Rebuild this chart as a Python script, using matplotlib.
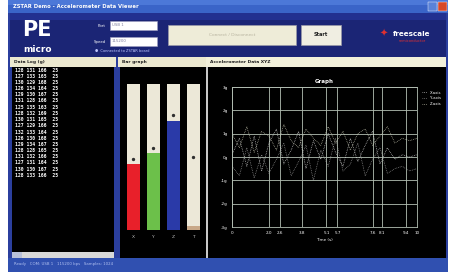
import matplotlib
matplotlib.use("Agg")
import matplotlib.pyplot as plt
from matplotlib.patches import Rectangle

W, H = 455, 272

# ---------------- data ----------------
gauge_labels = ["X", "Y", "Z", "T"]
gauge_values = [0.45, 0.53, 0.75, 0.03]
gauge_colors = ["#e8202a", "#6cc04a", "#2a3aa8", "#c8a888"]

x_ticks = [0, 20, 26, 38, 51, 57, 76, 81, 94, 100]
x_tick_labels = ["0", "2.0", "2.6", "3.8", "5.1", "5.7", "7.6", "8.1", "9.4", "10"]
y_ticks = [0, 1, 2, 3, 4, 5, 6]
y_tick_labels = ["-3g", "-2g", "-1g", "0g", "1g", "2g", "3g"]

t = [0, 4, 8, 12, 16, 20, 24, 28, 32, 36, 40, 44, 48, 52, 56, 60, 64, 68, 72, 76, 80, 84, 88, 92, 96, 100]
series_x = [3.1, 3.8, 2.6, 3.9, 2.4, 3.6, 4.2, 2.7, 3.3, 4.1, 2.5, 3.7, 2.9, 4.0, 3.2, 2.6, 3.8, 2.8, 3.5, 4.1, 2.7, 3.4, 2.9, 3.1, 3.0, 3.1]
series_y = [2.6, 2.2, 3.4, 2.1, 3.1, 2.3, 2.9, 3.6, 2.2, 2.8, 3.5, 2.0, 3.3, 2.6, 3.8, 2.4, 2.7, 3.6, 2.2, 2.9, 3.4, 2.3, 2.5, 2.6, 2.4, 2.5]
series_z = [4.0, 3.4, 4.3, 3.2, 4.1, 3.9, 3.3, 4.4, 3.7, 3.4, 4.2, 3.8, 3.5, 4.3, 3.6, 4.1, 3.3, 4.0, 4.2, 3.5, 3.9, 4.3, 3.6, 3.8, 3.7, 3.8]
series_names = ["X-axis", "Y-axis", "Z-axis"]

log_rows = [
    [128, 131, 166, 25], [127, 133, 165, 25], [130, 129, 168, 25], [126, 134, 164, 25],
    [129, 130, 167, 25], [131, 128, 166, 25], [125, 135, 163, 25], [128, 132, 169, 25],
    [130, 131, 165, 25], [127, 129, 166, 25], [132, 133, 164, 25], [126, 130, 168, 25],
    [129, 134, 167, 25], [128, 128, 165, 25], [131, 132, 166, 25], [127, 131, 164, 25],
    [130, 130, 167, 25], [128, 133, 166, 25],
]

# ---------------- figure ----------------
fig = plt.figure(figsize=(W / 100, H / 100), dpi=100)
fig.patch.set_facecolor("white")
bg = fig.add_axes([0, 0, 1, 1])
bg.set_xlim(0, W)
bg.set_ylim(H, 0)
bg.axis("off")


def rect(x0, y0, x1, y1, fc, ec="none", lw=0.0, z=1):
    bg.add_patch(Rectangle((x0, y0), x1 - x0, y1 - y0, facecolor=fc, edgecolor=ec, lw=lw, zorder=z))


def px_axes(x0, y0, x1, y1):
    return fig.add_axes([x0 / W, 1 - y1 / H, (x1 - x0) / W, (y1 - y0) / H])


# window frame
rect(8, 0, 448, 272, "#2b3f9e")
rect(8, 0, 448, 13, "#3a64c8")                 # title bar
rect(8, 0, 448, 5, "#4c78d8")
bg.text(13, 6.5, "ZSTAR Demo - Accelerometer Data Viewer", color="white", fontsize=3.8,
        va="center", ha="left", fontweight="bold")
rect(428, 2, 437, 11, "#5a82d8", ec="white", lw=0.3)
rect(438, 2, 447, 11, "#d84828", ec="white", lw=0.3)
rect(10, 13, 446, 57, "#1b2575")               # header area
rect(10, 13, 446, 20, "#223090")

# PE micro logo
bg.text(37, 30, "PE", color="white", fontsize=15, fontweight="bold", ha="center", va="center",
        family="DejaVu Sans")
bg.text(37, 50, "micro", color="white", fontsize=6.5, fontweight="bold", ha="center", va="center")

# inputs
bg.text(106, 26, "Port", color="white", fontsize=2.8, ha="right", va="center")
bg.text(106, 42, "Speed", color="white", fontsize=2.8, ha="right", va="center")
rect(110, 21, 157, 30, "white", ec="#a0a0c0", lw=0.4)
rect(110, 37, 157, 46, "white", ec="#a0a0c0", lw=0.4)
bg.text(112, 25.5, "USB 1", color="#8080a0", fontsize=2.8, va="center")
bg.text(112, 41.5, "115200", color="#8080a0", fontsize=2.8, va="center")
bg.text(95, 51, "\u25cf  Connected to ZSTAR board", color="#c0c8ff", fontsize=2.6, va="center")

# buttons
rect(168, 25, 296, 45, "#eeecd8", ec="#9a9aa8", lw=0.5)
bg.text(232, 35, "Connect / Disconnect", color="#b8b4a0", fontsize=3.2, ha="center", va="center")
rect(301, 25, 341, 45, "#f0eee2", ec="#9a9aa8", lw=0.5)
bg.text(321, 35, "Start", color="#202020", fontsize=3.6, ha="center", va="center", fontweight="bold")

# freescale logo
bg.text(384, 34, "\u2726", color="#e03030", fontsize=7, ha="center", va="center", family="DejaVu Sans")
bg.text(412, 34, "freescale", color="white", fontsize=5.2, ha="center", va="center", fontweight="bold")
bg.text(412, 40.5, "semiconductor", color="#e03030", fontsize=2.6, ha="center", va="center")

# panel headers
rect(10, 57, 116, 67, "#ece9d0")
bg.text(14, 62, "Data Log (g)", fontsize=3.2, color="#202020", va="center", fontweight="bold")
rect(118, 57, 206, 67, "#ece9d0")
bg.text(122, 62, "Bar graph", fontsize=3.2, color="#202020", va="center", fontweight="bold")
rect(206, 57, 446, 67, "#f2f0da")
bg.text(210, 62, "Accelerometer Data XYZ", fontsize=3.2, color="#202020", va="center", fontweight="bold")

# left log panel
rect(12, 67, 114, 252, "black")
for i, row in enumerate(log_rows):
    y = 70 + i * 6.2
    line = " ".join(f"{v:>3d}" for v in row)
    bg.text(15, y, line, color="white", fontsize=3.4, family="DejaVu Sans Mono", va="center",
            fontweight="bold")
rect(12, 252, 114, 258, "#d8d8d8")
rect(12, 252, 22, 258, "#b8c0d8")

# middle panel
rect(120, 67, 206, 258, "black")
# right panel
rect(207, 67, 446, 258, "black")
rect(206, 67, 207.5, 258, "#c8c8c8")

# status bar
rect(8, 258, 448, 272, "#3050b0")
bg.text(14, 264.5, "Ready   COM: USB 1   115200 bps   Samples: 1024", color="#b0c0f0", fontsize=2.8,
        va="center")

# ---------------- gauge axes ----------------
gx = px_axes(123.5, 84, 203.5, 230)
gx.set_facecolor("black")
gx.set_xlim(-0.5, 3.5)
gx.set_ylim(0, 1)
pos = list(range(len(gauge_values)))
gx.bar(pos, [1] * len(pos), width=0.65, color="#ece8d8", zorder=1)
gx.bar(pos, gauge_values, width=0.65, color=gauge_colors, zorder=2)
for p, v in zip(pos, gauge_values):
    gx.plot(p, v + 0.035 if p != 3 else 0.5, marker="o", ms=1.4, color="#303030", zorder=3)
gx.axis("off")
for p, lab in zip(pos, gauge_labels):
    bg.text(133.5 + 20 * p, 237, lab, color="#c0c0c0", fontsize=3.2, ha="center", va="center")

# ---------------- line chart axes ----------------
lx = px_axes(232, 87, 417, 227)
lx.set_facecolor("black")
lx.set_xlim(0, 100)
lx.set_ylim(0, 6)
lx.set_xticks(x_ticks)
lx.set_xticklabels(x_tick_labels)
lx.set_yticks(y_ticks)
lx.set_yticklabels(y_tick_labels)
lx.tick_params(colors="white", labelsize=3, length=0, pad=3)
lx.grid(True, color="#b4c0b4", lw=0.6)
for s in lx.spines.values():
    s.set_color("#b4c0b4")
    s.set_linewidth(0.6)
for ser, col, name in zip([series_x, series_y, series_z], ["#e8e8e8", "#a8a8a8", "#d8d8c0"], series_names):
    lx.plot(t, ser, color=col, lw=0.5, ls=(0, (1, 1.5)), label=name)
lx.set_title("Graph", color="white", fontsize=4, fontweight="bold", pad=3)
lx.set_xlabel("Time (s)", color="white", fontsize=3, labelpad=2)
leg = lx.legend(loc="upper left", bbox_to_anchor=(1.01, 1.0), fontsize=2.8, frameon=False,
                labelcolor="white", handlelength=1.2)

fig.savefig("out.png", dpi=100, facecolor=fig.get_facecolor())
